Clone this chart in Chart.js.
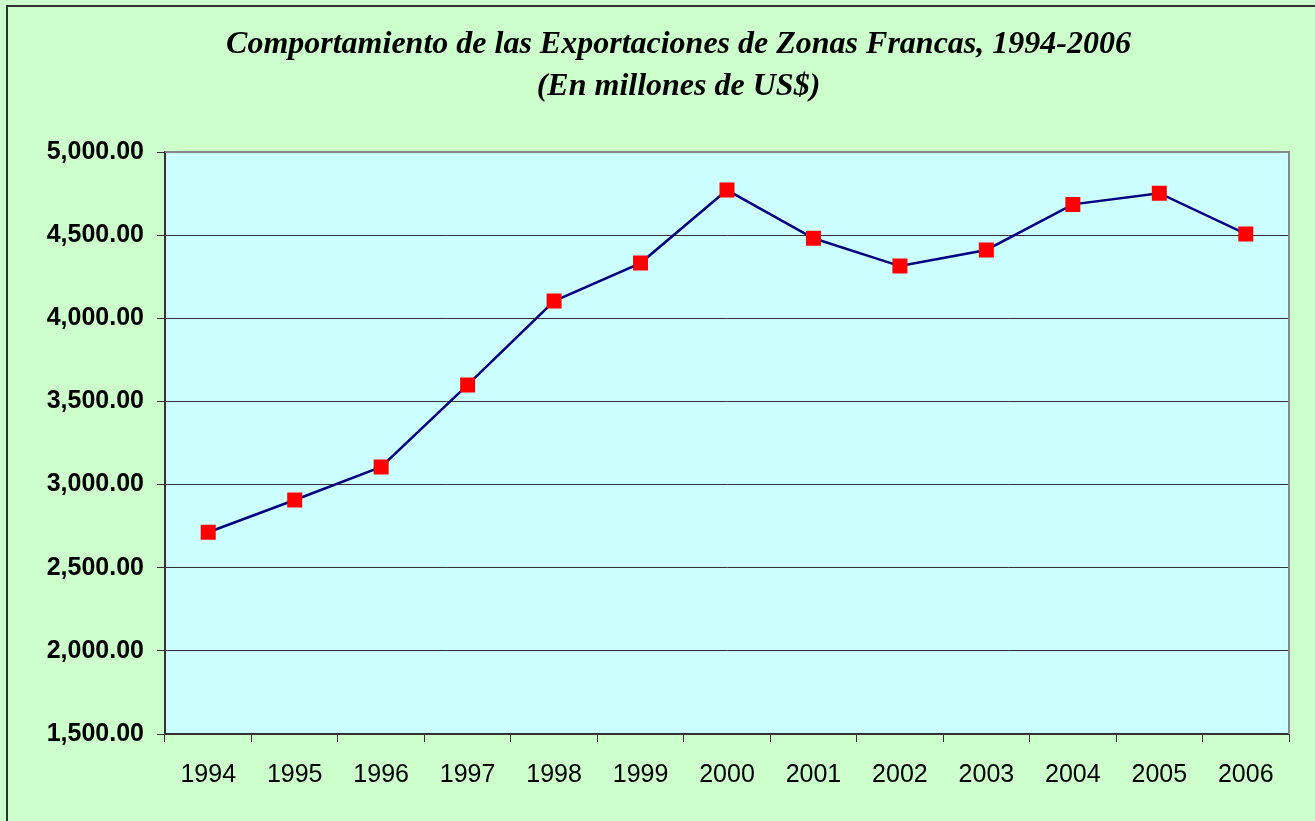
<!DOCTYPE html>
<html>
<head>
<meta charset="utf-8">
<script src="https://cdn.jsdelivr.net/npm/chart.js@4/dist/chart.umd.min.js"></script>
<style>
  html, body { margin: 0; padding: 0; background: #ccffcc; }
  #wrap { width: 1315px; height: 821px; }
</style>
</head>
<body>
<div id="wrap"><canvas id="chart"></canvas></div>
<script>
// datos
var years = ['1994', '1995', '1996', '1997', '1998', '1999', '2000', '2001', '2002', '2003', '2004', '2005', '2006'];
var exports = [2713, 2907, 3106, 3599, 4104, 4332, 4771, 4481, 4314, 4411, 4685, 4752, 4507];
var yTicks = [1500, 2000, 2500, 3000, 3500, 4000, 4500, 5000];
var titleLines = ['Comportamiento de las Exportaciones de Zonas Francas, 1994-2006', '(En millones de US$)'];

// fondo verde, marco y area de trazado celeste
var backgrounds = {
    id: 'backgrounds',
    afterLayout: function (chart) {
        // el titulo esta un poco corrido a la derecha en el original
        var t = chart.titleBlock;
        if (t) { t.left += 30; t.right += 30; }
    },
    beforeDraw: function (chart) {
        var ctx = chart.ctx;
        var a = chart.chartArea;
        ctx.save();
        ctx.fillStyle = '#ccffcc';
        ctx.fillRect(0, 0, chart.width, chart.height);
        ctx.fillStyle = '#ccffff';
        ctx.fillRect(a.left, a.top, a.right - a.left, a.bottom - a.top);
        ctx.restore();
    },
    afterDraw: function (chart) {
        var ctx = chart.ctx;
        var a = chart.chartArea;
        ctx.save();
        ctx.strokeStyle = '#888888';
        ctx.lineWidth = 2;
        ctx.beginPath();
        ctx.moveTo(a.left, a.top);
        ctx.lineTo(a.right, a.top);
        ctx.lineTo(a.right, a.bottom);
        ctx.stroke();
        ctx.strokeStyle = '#333333';
        ctx.lineWidth = 2;
        ctx.beginPath();
        ctx.moveTo(7, chart.height + 2);
        ctx.lineTo(7, 6);
        ctx.lineTo(chart.width + 2, 6);
        ctx.stroke();
        ctx.restore();
    }
};

var ctx = document.getElementById('chart').getContext('2d');
var chart = new Chart(ctx, {
    type: 'line',
    data: {
        labels: years,
        datasets: [{
            data: exports,
            borderColor: '#000080',
            borderWidth: 2.5,
            tension: 0,
            pointStyle: 'rect',
            pointRadius: 10.6,
            pointHoverRadius: 10.6,
            pointBackgroundColor: '#ff0000',
            pointBorderColor: '#ff0000',
            pointBorderWidth: 0
        }]
    },
    options: {
        responsive: true,
        maintainAspectRatio: false,
        animation: false,
        layout: { padding: { left: 8, right: 26, top: 0, bottom: 0 } },
        plugins: {
            legend: { display: false },
            tooltip: { enabled: false },
            title: {
                display: true,
                text: titleLines,
                color: '#000000',
                font: { family: '"Liberation Serif", "Times New Roman", serif', size: 32, weight: 'bold', style: 'italic', lineHeight: 1.3125 },
                padding: { top: 24, bottom: 44 }
            }
        },
        scales: {
            x: {
                offset: true,
                grid: { offset: true, drawOnChartArea: false, drawTicks: true, tickLength: 8, color: '#333333', lineWidth: 1 },
                border: { color: '#333333', width: 2 },
                ticks: { color: '#000000', padding: 18, maxRotation: 0, font: { family: '"Liberation Sans", Arial, sans-serif', size: 25 } },
                afterFit: function (scale) { scale.height = 87; }
            },
            y: {
                min: 1500,
                max: 5000,
                afterBuildTicks: function (scale) {
                    scale.ticks = yTicks.map(function (v) { return { value: v }; });
                },
                grid: { color: '#333333', lineWidth: 1, tickLength: 8 },
                border: { color: '#333333', width: 2 },
                ticks: {
                    color: '#000000',
                    padding: 13,
                    font: { family: '"Liberation Sans", Arial, sans-serif', size: 25, weight: 'bold' },
                    callback: function (v) {
                        return Number(v).toLocaleString('en-US', { minimumFractionDigits: 2, maximumFractionDigits: 2 });
                    }
                },
                afterFit: function (scale) { scale.width = 157; }
            }
        }
    },
    plugins: [backgrounds]
});
</script>
</body>
</html>
